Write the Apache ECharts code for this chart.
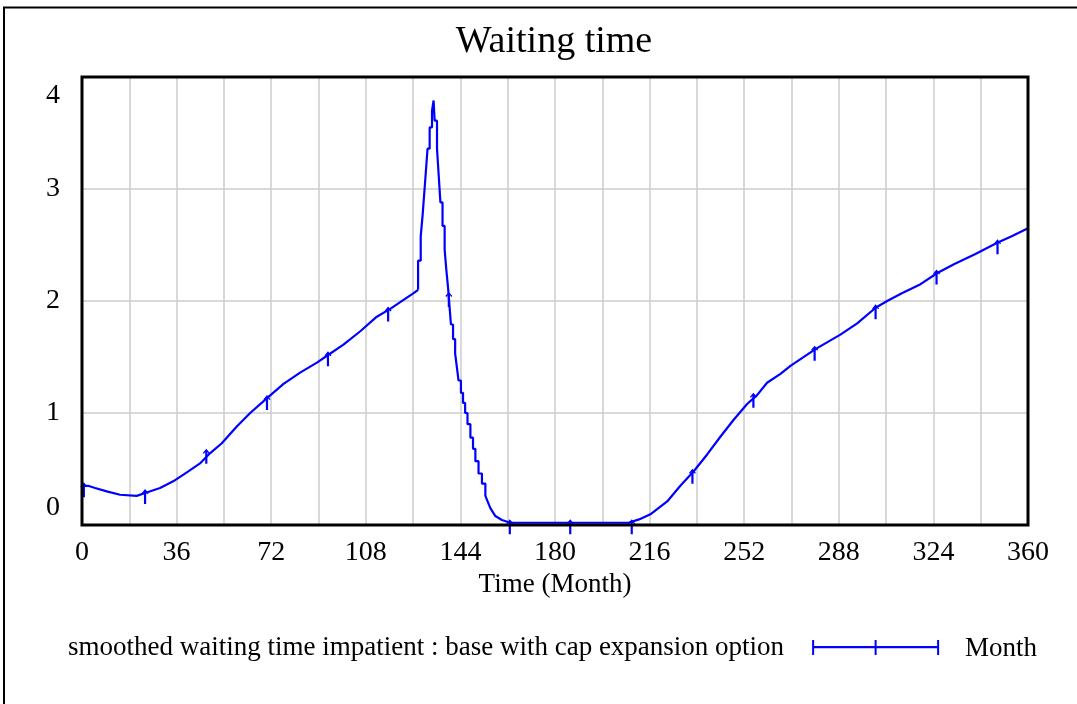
<!DOCTYPE html>
<html>
<head>
<meta charset="utf-8">
<script src="https://cdn.jsdelivr.net/npm/echarts@6/dist/echarts.min.js"></script>
<style>
html,body{margin:0;padding:0;background:#fff;}
#chart{width:1077px;height:704px;}
</style>
</head>
<body>
<div id="chart"></div>
<script>
// ---- data ----
const seriesName = 'smoothed waiting time impatient : base with cap expansion option';
const unitsLabel = 'Month';
const xTicks = [0, 36, 72, 108, 144, 180, 216, 252, 288, 324, 360];
const yTicks = [0, 1, 2, 3, 4];

// before the spike
const timeA = [0, 2.3, 5, 9.4, 14.5, 20.8, 24.6, 29.7, 34.7, 39.9, 44.9, 48.7, 53.2, 58.9, 64, 70.3, 76.7, 83, 89.4, 93.8, 99.5, 105.9, 112.2, 117.3, 121.1, 126.2, 127.9];
const valA  = [0.35, 0.35, 0.33, 0.30, 0.27, 0.26, 0.29, 0.33, 0.39, 0.47, 0.55, 0.64, 0.73, 0.88, 1.0, 1.13, 1.26, 1.36, 1.45, 1.52, 1.61, 1.73, 1.86, 1.93, 1.99, 2.07, 2.10];

// the spike (saved values, drawn as steps)
const timeP = [127.9, 127.9, 128.9, 129.6, 130.3, 130.9, 131.5, 132.3, 133.2, 133.8, 134.2, 135.1, 135.8, 136.4, 137.2, 138.0, 138.6, 139.3, 139.9, 140.4, 141.2, 142.0, 142.7, 143.3, 144.2, 145.0, 145.8, 146.7, 147.8, 148.8, 149.7, 150.9, 152.2, 153.5];
const valP  = [2.10, 2.36, 2.58, 2.76, 2.98, 3.17, 3.36, 3.55, 3.70, 3.79, 3.61, 3.36, 3.10, 2.88, 2.67, 2.46, 2.29, 2.12, 1.94, 1.79, 1.66, 1.53, 1.40, 1.29, 1.18, 1.09, 1.00, 0.90, 0.78, 0.68, 0.57, 0.46, 0.37, 0.26];

// after the spike
const timeB = [153.5, 155.4, 157.3, 159.8, 163, 186, 208, 212, 216.3, 222.7, 227.7, 232.8, 237.9, 243, 248, 253.1, 256.9, 260.7, 265.8, 269.6, 279.1, 288.6, 295, 302, 306.4, 312, 319.1, 325.5, 332, 340, 348.3, 354, 360];
const valB  = [0.26, 0.15, 0.08, 0.045, 0.02, 0.02, 0.02, 0.05, 0.095, 0.21, 0.35, 0.48, 0.63, 0.79, 0.94, 1.08, 1.16, 1.27, 1.35, 1.42, 1.57, 1.70, 1.80, 1.94, 2.0, 2.07, 2.15, 2.25, 2.33, 2.42, 2.52, 2.58, 2.65];

// line markers
const markTime = [0.7, 24.0, 47.3, 70.4, 93.6, 116.5, 139.6, 162.8, 185.8, 209.2, 232.3, 255.5, 278.8, 302.0, 325.2, 348.4];
const markVal  = [0.35, 0.29, 0.65, 1.13, 1.52, 1.92, 2.05, 0.02, 0.02, 0.02, 0.47, 1.15, 1.57, 1.94, 2.25, 2.52];

// ---- chart ----
const pair = (ts, vs) => ts.map((t, i) => [t, vs[i]]);
const BLUE = '#0000ff';
const FONT = '"Liberation Serif", "Times New Roman", serif';
const markerPath = 'path://M3.5,0 L7,4.2 L5.9,5 L4.6,3.2 L4.6,15 L2.4,15 L2.4,3.2 L1.1,5 L0,4.2 Z';
const legendPath = 'path://M0,6 L127,6 L127,8.2 L0,8.2 Z M0,0 L2,0 L2,15 L0,15 Z M62.5,0 L64.5,0 L64.5,15 L62.5,15 Z M125,0 L127,0 L127,15 L125,15 Z';

const GL = 82, GT = 77, GW = 946, GH = 448;

const chart = echarts.init(document.getElementById('chart'), null, {renderer: 'canvas'});
chart.setOption({
  animation: false,
  backgroundColor: '#ffffff',
  title: {
    text: 'Waiting time',
    left: 554, top: 23, textAlign: 'center',
    padding: 0,
    textStyle: {fontFamily: FONT, fontSize: 38, fontWeight: 'normal', color: '#000'}
  },
  grid: {left: GL, top: GT, width: GW, height: GH, show: false, containLabel: false},
  legend: {
    show: true,
    left: 68, top: 634,
    align: 'right',
    padding: 0,
    itemWidth: 127, itemHeight: 15,
    selectedMode: false,
    data: [{name: seriesName, icon: legendPath, itemStyle: {color: BLUE}}],
    textStyle: {fontFamily: FONT, fontSize: 27, color: '#000', padding: [0, 23, 0, 0]}
  },
  xAxis: {
    type: 'value', min: 0, max: 360, interval: 36,
    name: 'Time (Month)', nameLocation: 'middle', nameGap: 44,
    nameTextStyle: {fontFamily: FONT, fontSize: 27, color: '#000'},
    axisLine: {show: false}, axisTick: {show: false},
    axisLabel: {fontFamily: FONT, fontSize: 28, color: '#000', margin: 14,
      formatter: v => xTicks.includes(v) ? String(v) : ''},
    splitLine: {show: true, lineStyle: {color: '#cccccc', width: 1.5}},
    minorTick: {show: false, splitNumber: 2},
    minorSplitLine: {show: true, lineStyle: {color: '#cccccc', width: 1.5}}
  },
  yAxis: {
    type: 'value', min: 0, max: 4, interval: 1,
    axisLine: {show: false}, axisTick: {show: false},
    axisLabel: {fontFamily: FONT, fontSize: 28, color: '#000', margin: 22,
      formatter: v => {
        if (!yTicks.includes(v)) return '';
        if (v === 4) return '{hi|4}';
        if (v === 0) return '{lo|0}';
        return String(v);
      },
      rich: {
        hi: {fontFamily: FONT, fontSize: 28, color: '#000', padding: [38, 0, 0, 0]},
        lo: {fontFamily: FONT, fontSize: 28, color: '#000', padding: [0, 0, 34, 0]}
      }
    },
    splitLine: {show: true, lineStyle: {color: '#cccccc', width: 1.5}}
  },
  graphic: [
    {type: 'polyline', silent: true, z: 100, shape: {points: [[4, 704], [4, 7.5], [1077, 7.5]]},
      style: {stroke: '#000', lineWidth: 2, fill: null}},
    {type: 'rect', silent: true, z: 100, shape: {x: GL, y: GT, width: GW, height: GH},
      style: {stroke: '#000', lineWidth: 3, fill: null}},
    {type: 'text', left: 965, top: 635, silent: true,
      style: {text: unitsLabel, fontFamily: FONT, fontSize: 27, fill: '#000'}}
  ],
  series: [
    {name: seriesName, type: 'line', data: pair(timeA, valA), showSymbol: false, symbol: 'none',
      lineStyle: {color: BLUE, width: 2.2}, itemStyle: {color: BLUE}},
    {name: seriesName, type: 'line', step: 'end', data: pair(timeP, valP), showSymbol: false, symbol: 'none',
      lineStyle: {color: BLUE, width: 2.2}, itemStyle: {color: BLUE}},
    {name: seriesName, type: 'line', data: pair(timeB, valB), showSymbol: false, symbol: 'none',
      lineStyle: {color: BLUE, width: 2.2}, itemStyle: {color: BLUE}},
    {name: seriesName, type: 'scatter', data: pair(markTime, markVal),
      symbol: markerPath, symbolSize: [7, 15], symbolOffset: [0, 4], symbolKeepAspect: false,
      itemStyle: {color: BLUE, opacity: 1}, z: 3}
  ]
});
</script>
</body>
</html>
